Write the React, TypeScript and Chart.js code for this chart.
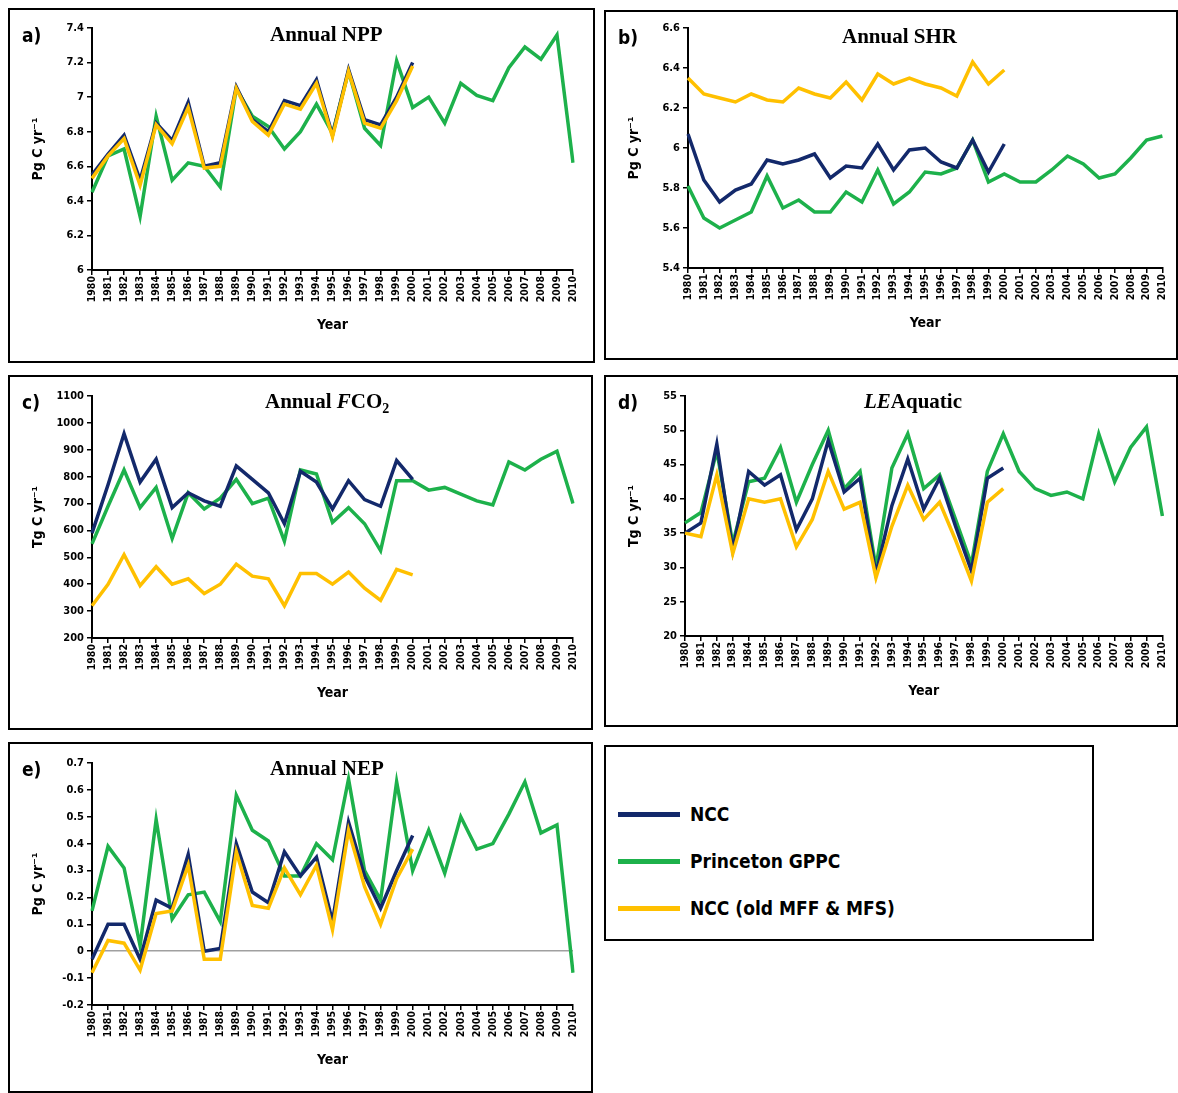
import React, { useEffect, useRef } from 'react';
import { Chart, registerables } from 'chart.js';

Chart.register(...registerables);

const years = Array.from({ length: 31 }, (_, i) => String(1980 + i));

// --- NPP (Pg C yr-1)
const nppNcc = [6.55, 6.67, 6.78, 6.52, 6.85, 6.75, 6.97, 6.6, 6.62, 7.06, 6.87, 6.8, 6.98, 6.95, 7.1, 6.78, 7.16, 6.87, 6.84, 7.0, 7.2];
const nppOld = [6.53, 6.66, 6.76, 6.49, 6.84, 6.73, 6.94, 6.59, 6.6, 7.05, 6.86, 6.78, 6.96, 6.93, 7.08, 6.77, 7.15, 6.85, 6.82, 6.98, 7.18];
const nppPrinceton = [6.45, 6.66, 6.7, 6.31, 6.89, 6.52, 6.62, 6.6, 6.48, 7.05, 6.89, 6.83, 6.7, 6.8, 6.96, 6.79, 7.15, 6.82, 6.72, 7.21, 6.94, 7.0, 6.85, 7.08, 7.01, 6.98, 7.17, 7.29, 7.22, 7.36, 6.62];

// --- SHR (Pg C yr-1)
const shrNcc = [6.07, 5.84, 5.73, 5.79, 5.82, 5.94, 5.92, 5.94, 5.97, 5.85, 5.91, 5.9, 6.02, 5.89, 5.99, 6.0, 5.93, 5.9, 6.04, 5.88, 6.02];
const shrOld = [6.35, 6.27, 6.25, 6.23, 6.27, 6.24, 6.23, 6.3, 6.27, 6.25, 6.33, 6.24, 6.37, 6.32, 6.35, 6.32, 6.3, 6.26, 6.43, 6.32, 6.39];
const shrPrinceton = [5.81, 5.65, 5.6, 5.64, 5.68, 5.86, 5.7, 5.74, 5.68, 5.68, 5.78, 5.73, 5.89, 5.72, 5.78, 5.88, 5.87, 5.9, 6.04, 5.83, 5.87, 5.83, 5.83, 5.89, 5.96, 5.92, 5.85, 5.87, 5.95, 6.04, 6.06];

// --- FCO2 (Tg C yr-1)
const fcoNcc = [590, 770, 960, 780, 865, 685, 740, 710, 690, 840, 790, 740, 625, 820, 780, 680, 785, 715, 690, 860, 790];
const fcoOld = [320, 400, 510, 395, 465, 400, 420, 365, 400, 475, 430, 420, 320, 440, 440, 400, 445, 385, 340, 455, 435];
const fcoPrinceton = [550, 690, 825, 685, 760, 570, 740, 680, 720, 790, 700, 720, 560, 825, 810, 630, 685, 625, 525, 785, 785, 750, 760, 735, 710, 695, 855, 825, 865, 895, 700];

// --- LE Aquatic (Tg C yr-1)
const leNcc = [35, 36.5, 48, 32.5, 44, 42, 43.5, 35.5, 40, 48.5, 41, 43, 29, 39, 45.8, 38.5, 43, 36, 29.5, 43, 44.5];
const leOld = [35, 34.5, 43.5, 32, 40, 39.5, 40, 33, 37, 44, 38.5, 39.5, 28.5, 36, 42, 37, 39.5, 34, 28, 39.5, 41.5];
const lePrinceton = [36.5, 38, 47, 33.5, 42.5, 43, 47.5, 39.5, 45, 50, 41.5, 44, 30, 44.5, 49.5, 41.5, 43.5, 37, 30.5, 44, 49.5, 44, 41.5, 40.5, 41, 40, 49.5, 42.5, 47.5, 50.5, 37.5];

// --- NEP (Pg C yr-1)
const nepNcc = [-0.03, 0.1, 0.1, -0.03, 0.19, 0.16, 0.36, 0.0, 0.01, 0.4, 0.22, 0.18, 0.37, 0.28, 0.35, 0.11, 0.48, 0.28, 0.16, 0.3, 0.43];
const nepOld = [-0.08, 0.04, 0.03, -0.07, 0.14, 0.15, 0.32, -0.03, -0.03, 0.37, 0.17, 0.16, 0.31, 0.21, 0.32, 0.08, 0.45, 0.24, 0.1, 0.27, 0.38];
const nepPrinceton = [0.15, 0.39, 0.31, 0.02, 0.49, 0.12, 0.21, 0.22, 0.11, 0.58, 0.45, 0.41, 0.28, 0.28, 0.4, 0.34, 0.64, 0.3, 0.19, 0.63, 0.3, 0.45, 0.29, 0.5, 0.38, 0.4, 0.51, 0.63, 0.44, 0.47, -0.08];

const NAVY = '#13296b';
const GREEN = '#1db14b';
const YELLOW = '#ffc000';
const TICK_FONT = 'DejaVu Sans Condensed, DejaVu Sans, sans-serif';
const SERIF = 'Liberation Serif, DejaVu Serif, serif';

type PanelProps = {
  left: number; top: number; width: number; height: number;
  plotLeft: number; plotTop: number; plotRight: number; plotBottom: number;
  min: number; max: number; step: number; decimals: number;
  ncc: number[]; old: number[]; princeton: number[];
  yTitle: string; label: string; title: React.ReactNode; titleX: number;
  zeroLine?: boolean;
};

function Panel(p: PanelProps) {
  const ref = useRef<HTMLCanvasElement>(null);
  const padLeft = 16;
  const xAxisH = 68;

  useEffect(() => {
    if (!ref.current) return;
    const inner = 2; // border
    const chart = new Chart(ref.current, {
      type: 'line',
      data: {
        labels: years,
        datasets: [
          { label: 'NCC (old MFF & MFS)', data: p.old, borderColor: YELLOW, order: 1 },
          { label: 'NCC', data: p.ncc, borderColor: NAVY, order: 2 },
          { label: 'Princeton GPPC', data: p.princeton, borderColor: GREEN, order: 3 },
        ].map((d) => ({ ...d, borderWidth: 3.5, pointRadius: 0, tension: 0, fill: false })),
      },
      options: {
        animation: false,
        responsive: false,
        layout: {
          padding: {
            top: p.plotTop - p.top - inner,
            right: p.left + p.width - inner - p.plotRight,
            left: padLeft,
            bottom: p.top + p.height - inner - p.plotBottom - xAxisH,
          },
        },
        plugins: { legend: { display: false }, tooltip: { enabled: false } },
        scales: {
          x: {
            offset: false,
            border: { color: '#000', width: 2 },
            grid: { display: true, drawOnChartArea: false, tickLength: 5, color: '#000', lineWidth: 1.5 },
            ticks: {
              autoSkip: false, maxRotation: 90, minRotation: 90, color: '#000', padding: 1,
              font: { family: TICK_FONT, size: 10.5, weight: 'bold' },
            },
            title: { display: true, text: 'Year', color: '#000', padding: { top: 2 }, font: { family: TICK_FONT, size: 14, weight: 'bold' } },
            afterFit: (s: any) => { s.height = xAxisH; },
          },
          y: {
            min: p.min, max: p.max,
            border: { color: '#000', width: 2 },
            grid: {
              display: true, drawOnChartArea: !!p.zeroLine, tickLength: 5, tickColor: '#000', lineWidth: 1.5,
              color: (c: any) => (p.zeroLine && Math.abs(c.tick?.value ?? 1) < 1e-9 ? '#a0a0a0' : 'rgba(0,0,0,0)'),
            },
            ticks: {
              stepSize: p.step, color: '#000', padding: 3,
              font: { family: TICK_FONT, size: 11, weight: 'bold' },
              callback: (v: any) => String(parseFloat(Number(v).toFixed(p.decimals))),
            },
            title: { display: true, text: p.yTitle, color: '#000', font: { family: TICK_FONT, size: 14, weight: 'bold' } },
            afterFit: (s: any) => { s.width = p.plotLeft - p.left - inner - padLeft; },
          },
        },
      } as any,
    });
    return () => chart.destroy();
  }, []);

  return (
    <div style={{ position: 'absolute', left: p.left, top: p.top, width: p.width, height: p.height, border: '2px solid #000', boxSizing: 'border-box', background: '#fff' }}>
      <canvas ref={ref} width={p.width - 4} height={p.height - 4} style={{ display: 'block' }} />
      <div style={{ position: 'absolute', left: 12, top: 14, fontFamily: TICK_FONT, fontWeight: 'bold', fontSize: 19 }}>{p.label}</div>
      <div style={{ position: 'absolute', left: p.titleX, top: 12, fontFamily: SERIF, fontWeight: 'bold', fontSize: 21, whiteSpace: 'nowrap' }}>{p.title}</div>
    </div>
  );
}

function LegendBox() {
  const items = [
    { c: NAVY, t: 'NCC' },
    { c: GREEN, t: 'Princeton GPPC' },
    { c: YELLOW, t: 'NCC (old MFF & MFS)' },
  ];
  return (
    <div style={{ position: 'absolute', left: 604, top: 745, width: 490, height: 196, border: '2px solid #000', boxSizing: 'border-box', background: '#fff' }}>
      {items.map((it, i) => (
        <div key={i} style={{ position: 'absolute', left: 12, top: 56 + i * 47, display: 'flex', alignItems: 'center' }}>
          <div style={{ width: 62, height: 5, background: it.c }} />
          <span style={{ marginLeft: 10, fontFamily: TICK_FONT, fontWeight: 'bold', fontSize: 19 }}>{it.t}</span>
        </div>
      ))}
    </div>
  );
}

export default function App() {
  return (
    <div style={{ position: 'absolute', left: 0, top: 0, width: 1178, height: 1093, background: '#fff' }}>
      <Panel left={8} top={8} width={587} height={355} plotLeft={92} plotTop={28} plotRight={573} plotBottom={270}
        min={6} max={7.4} step={0.2} decimals={1} ncc={nppNcc} old={nppOld} princeton={nppPrinceton}
        yTitle="Pg C yr⁻¹" label="a)" title="Annual NPP" titleX={260} />
      <Panel left={604} top={10} width={574} height={350} plotLeft={688} plotTop={28} plotRight={1166} plotBottom={268}
        min={5.4} max={6.6} step={0.2} decimals={1} ncc={shrNcc} old={shrOld} princeton={shrPrinceton}
        yTitle="Pg C yr⁻¹" label="b)" title="Annual SHR" titleX={236} />
      <Panel left={8} top={375} width={585} height={355} plotLeft={92} plotTop={396} plotRight={573} plotBottom={638}
        min={200} max={1100} step={100} decimals={0} ncc={fcoNcc} old={fcoOld} princeton={fcoPrinceton}
        yTitle="Tg C yr⁻¹" label="c)" title={<span>Annual <i>F</i>CO<sub style={{ fontSize: 14 }}>2</sub></span>} titleX={255} />
      <Panel left={604} top={375} width={574} height={352} plotLeft={685} plotTop={396} plotRight={1166} plotBottom={636}
        min={20} max={55} step={5} decimals={0} ncc={leNcc} old={leOld} princeton={lePrinceton}
        yTitle="Tg C yr⁻¹" label="d)" title={<span><i>LE</i>Aquatic</span>} titleX={258} />
      <Panel left={8} top={742} width={585} height={351} plotLeft={92} plotTop={763} plotRight={573} plotBottom={1005}
        min={-0.2} max={0.7} step={0.1} decimals={1} ncc={nepNcc} old={nepOld} princeton={nepPrinceton}
        yTitle="Pg C yr⁻¹" label="e)" title="Annual NEP" titleX={260} zeroLine />
      <LegendBox />
    </div>
  );
}
